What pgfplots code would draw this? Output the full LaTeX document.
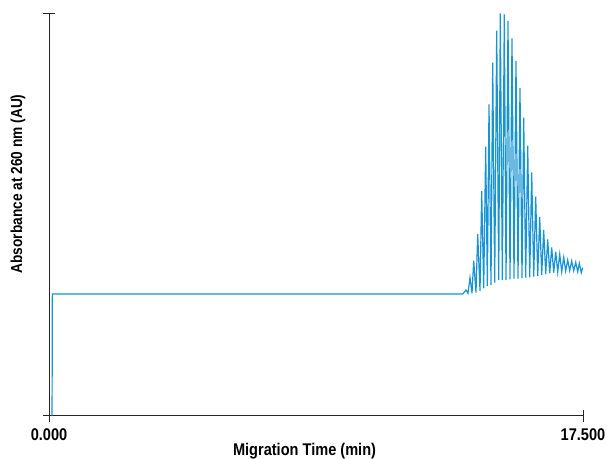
\documentclass[border=0pt]{standalone}
\usepackage{fontspec}
\setmainfont{Liberation Sans}[FakeStretch=0.86]
\usepackage{pgfplots}
\pgfplotsset{compat=1.18}
\definecolor{trace}{RGB}{24,148,212}
\begin{document}
\begin{tikzpicture}
\begin{axis}[
  scale only axis, width=534bp, height=402.7bp,
  xmin=0, xmax=17.5, ymin=0, ymax=402.7,
  axis lines*=left,
  axis line style={black!85, line width=0.9bp},
  xtick={0,17.5}, xticklabels={0.000,17.500},
  ytick={0,402.7}, yticklabels={},
  tick align=center, major tick length=12bp,
  tick style={black!85, line width=0.9bp},
  tick label style={font=\fontsize{17}{19}\selectfont\bfseries},
  xticklabel style={yshift=-3bp},
  /pgf/number format/assume math mode=true,
  xlabel={Migration Time (min)},
  ylabel={Absorbance at 260 nm (AU)},
  xlabel style={font=\fontsize{17}{19}\selectfont\bfseries, at={(axis description cs:0.4785,-0.0870)}, anchor=center},
  ylabel style={font=\fontsize{16}{18}\selectfont\bfseries, at={(axis description cs:-0.0580,0.5754)}, anchor=center, rotate=0},
  clip=false,
]
\addplot[trace, line width=1.2bp] coordinates {
(0.100,0) (0.110,121.7) (13.557,121.7)
(13.666,125.7) (13.731,122.4)
(13.797,138.0) (13.863,122.4)
(13.918,155.0) (13.993,123.0)
(14.049,181.7) (14.125,124.7)
(14.180,224.7) (14.246,127.4)
(14.311,269.0) (14.365,129.7)
(14.420,311.4) (14.485,130.7)
(14.541,353.0) (14.606,133.0)
(14.672,385.0) (14.738,135.7)
(14.790,402.4) (14.856,135.7)
(14.921,401.4) (14.977,135.7)
(15.042,394.7) (15.108,136.4)
(15.173,377.4) (15.239,137.0)
(15.304,354.7) (15.370,137.0)
(15.435,327.7) (15.501,137.7)
(15.557,298.0) (15.622,138.0)
(15.688,270.0) (15.754,138.4)
(15.819,243.4) (15.885,139.0)
(15.950,219.0) (16.016,139.7)
(16.081,198.7) (16.147,140.7)
(16.212,185.7) (16.278,141.7)
(16.343,176.4) (16.409,142.4)
(16.474,168.4) (16.540,143.0)
(16.606,164.0) (16.671,143.7)
(16.737,161.4) (16.803,144.0)
(16.868,158.4) (16.933,144.7)
(16.999,155.7) (17.065,145.0)
(17.130,154.7) (17.196,145.0)
(17.261,153.4) (17.327,144.0)
(17.379,152.4) (17.445,143.0)
(17.490,148.0)
};
\end{axis}
\pgfresetboundingbox
\path ([shift={(-49bp,-43.3bp)}]current axis.south west) rectangle ([shift={(24bp,13bp)}]current axis.north east);
\end{tikzpicture}
\end{document}
